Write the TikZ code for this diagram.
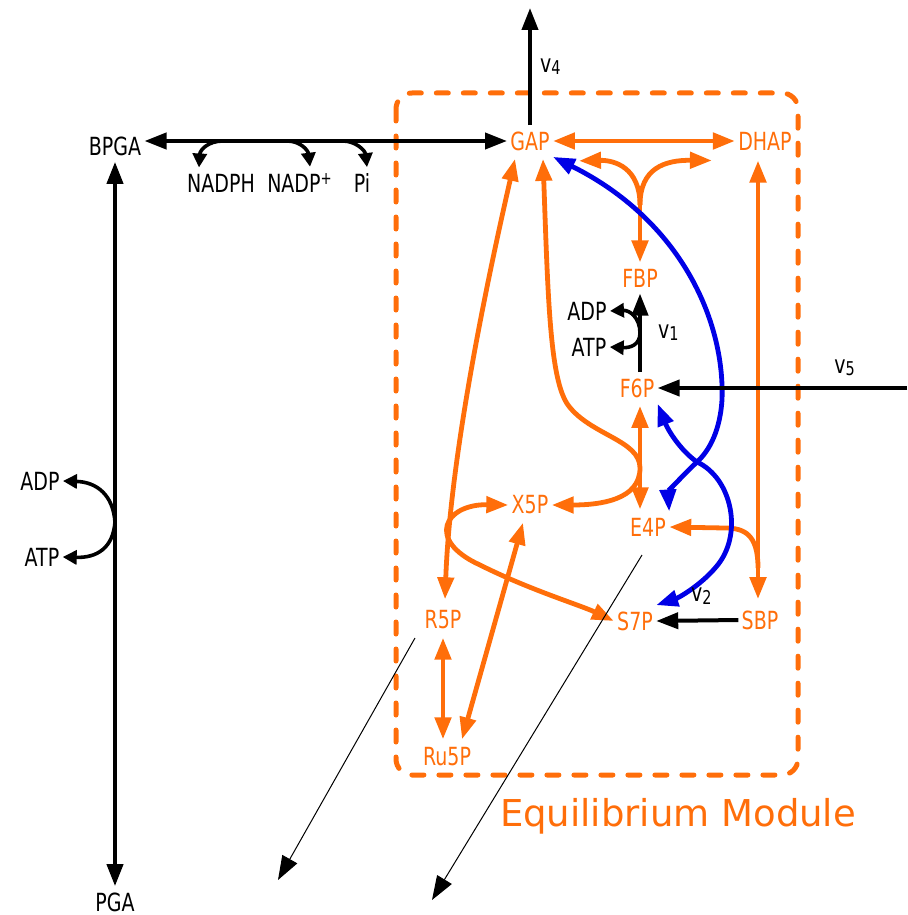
\documentclass[tikz,border=0pt]{standalone}
\usepackage{fontspec}
\setmainfont{DejaVu Sans}[FakeStretch=0.76]
\newfontfamily\modfont{DejaVu Sans}
\usetikzlibrary{arrows.meta, calc}
\definecolor{pathorange}{RGB}{255,110,10}
\definecolor{pathblue}{RGB}{0,0,230}
\newcommand{\vrate}[1]{v{\fontsize{9.5}{10}\selectfont\raisebox{-0.25ex}{#1}}}

\begin{document}
\begin{tikzpicture}[x=0.5pt, y=-0.5pt,
		met/.style={text=pathorange, font=\fontsize{12.5}{14}\selectfont,
			inner xsep=1.5pt, inner ysep=3pt},
		cof/.style={text=black, font=\fontsize{12.5}{14}\selectfont,
			inner xsep=1.5pt, inner ysep=3pt},
		rate/.style={font=\fontsize{12.5}{14}\selectfont, inner sep=0pt},
		oline/.style={pathorange, line width=2.4pt, >={Triangle[length=11pt, width=8pt]}},
		bline/.style={pathblue, line width=2.4pt, ->, >={Triangle[length=11pt, width=8pt]}},
		kline/.style={black, line width=2pt, >={Triangle[length=11pt, width=8pt]}},
		ksmall/.style={black, line width=1.8pt, -{Triangle[length=7pt, width=7pt]}},
		thin/.style={black, line width=0.5pt, -{Triangle[length=12pt, width=8.5pt]}}
	]
	\useasboundingbox (0,0) rectangle (907,915);
	\draw[pathorange, line width=2.5pt, line cap=round, dash pattern=on 6pt off 7.5pt,
		rounded corners=8pt] (396,93) rectangle (798,775);
	\node[text=pathorange, font=\modfont\fontsize{18.5}{20}\selectfont] (modlabel) at (678,816) {Equilibrium Module};
	
	\node[cof] (bpga) at (115,146) {BPGA};
	\node[cof] (pga) at (115,902) {PGA};
	\node[met] (gap) at (530,141) {GAP};
	\node[met] (dhap) at (765,141) {DHAP};
	\node[met] (fbp) at (640,278) {FBP};
	\node[met] (f6p) at (637,388) {F6P};
	\node[met] (x5p) at (530,505) {X5P};
	\node[met] (e4p) at (648,527) {E4P};
	\node[met] (r5p) at (443,620) {R5P};
	\node[met] (s7p) at (635,621) {S7P};
	\node[met] (sbp) at (760,620) {SBP};
	\node[met] (ru5p) at (447,757) {Ru5P};
	\node[cof] (nadph) at (221,183) {NADPH};
	\node[cof] (nadp) at (300,183) {NADP\textsuperscript{+}};
	\node[cof] (pi) at (362,183) {Pi};
	\node[cof] (adpa) at (587,311) {ADP};
	\node[cof] (atpa) at (589,347) {ATP};
	\node[cof] (adpb) at (40,481) {ADP};
	\node[cof] (atpb) at (42,557) {ATP};
	
	\coordinate (v4end) at (530,8);
	\coordinate (v5start) at (907,388);
	\coordinate (fbpfork) at (640,205);
	\coordinate (sbpfork) at (758,568);
	\coordinate (v1stem) at (640,333);
	\coordinate (pgastem) at (115,522);
	\coordinate (nadphfrom) at (223,141);
	\coordinate (nadpfrom) at (287,141);
	\coordinate (pifrom) at (343,141);
	\coordinate (outa) at (415,638);
	\coordinate (outaend) at (278,880);
	\coordinate (outb) at (642,555);
	\coordinate (outbend) at (432,900);
	
	% orange equilibrium reactions
	\draw[oline, <->] (gap) -- (dhap);
	\draw[oline, ->] (fbpfork) -- (fbp.north);
	\draw[oline, ->] (fbpfork) .. controls (640,168) and (615,160) .. ($(gap.south east)+(26,4)$);
	\draw[oline, ->] (fbpfork) .. controls (640,168) and (665,160) .. ($(dhap.south west)+(-23,4)$);
	\draw[oline, <->] ($(dhap.south)+(-7,4)$) -- ($(sbp.north)+(-2,-5)$);
	\draw[oline, ->] (sbpfork) .. controls (758,535) and (745,528) .. (725,528) -- (e4p.east);
	\draw[oline, <->] ($(f6p.south)+(3,2)$) -- ($(e4p.north)+(-8,-2)$);
	\draw[oline, <->] ($(gap.south)+(13,2)$) .. controls (548,300) and (550,380) .. (568,405)
		.. controls (590,435) and (640,440) .. (640,468)
		.. controls (640,500) and (600,505) .. (x5p.east);
	\draw[oline, <->] ($(gap.south)+(-15,2)$) .. controls (485,290) and (450,460) .. ($(r5p.north)+(2,-5)$);
	\draw[oline, <->] (x5p.west) .. controls (445,504) and (425,540) .. (480,565)
		.. controls (530,590) and (580,605) .. (s7p.west);
	\draw[oline, <->] ($(r5p.south)+(0,2)$) -- ($(ru5p.north)+(-4,-2)$);
	\draw[oline, <->] ($(x5p.south)+(-7,2)$) -- ($(ru5p.north)+(15,-2)$);
	
	% transaldolase
	\draw[bline] (697,462) .. controls (710,450) and (720,430) .. (722,400)
		.. controls (725,320) and (680,220) .. (gap.south east);
	\draw[bline] (697,462) .. controls (682,476) and (668,492) .. (e4p.north east);
	\draw[bline] (697,462) .. controls (680,450) and (668,430) .. (f6p.south east);
	\draw[bline] (697,462) .. controls (732,478) and (744,535) .. (716,567)
		.. controls (700,586) and (678,598) .. (s7p.north east);
	
	% irreversible steps
	\draw[kline, <->] (bpga.east |- gap.west) -- (gap.west);
	\draw[kline, <->] (bpga) -- (pga);
	\draw[kline, ->] (gap.north) -- (v4end) node[midway, right=4pt, rate] {\vrate{4}};
	\draw[kline, ->] ($(f6p.north)+(3,0)$) -- (fbp.south) node[midway, right=8pt, rate] {\vrate{1}};
	\draw[kline, ->] (v5start) -- (f6p.east) node[pos=0.25, above=5pt, rate] {\vrate{5}};
	\draw[kline, ->] (sbp.west) -- (s7p.east) node[midway, above=7pt, xshift=2pt, rate] {\vrate{2}};
	
	\draw[ksmall] (nadphfrom) .. controls (208,141) and (200,150) .. ($(nadph.north)+(-22,0)$);
	\draw[ksmall] (nadpfrom) .. controls (300,141) and (308,150) .. ($(nadp.north)+(10,0)$);
	\draw[ksmall] (pifrom) .. controls (355,141) and (365,150) .. ($(pi.north)+(5,0)$);
	\draw[ksmall] (v1stem) .. controls (640,318) and (630,310) .. (adpa.east);
	\draw[ksmall] (v1stem) .. controls (640,345) and (630,348) .. (atpa.east);
	\draw[ksmall] (pgastem) .. controls (113,495) and (97,482) .. (adpb.east);
	\draw[ksmall] (pgastem) .. controls (113,548) and (97,558) .. (atpb.east);
	
	\draw[thin] (outa) -- (outaend);
	\draw[thin] (outb) -- (outbend);
\end{tikzpicture}
\end{document}
